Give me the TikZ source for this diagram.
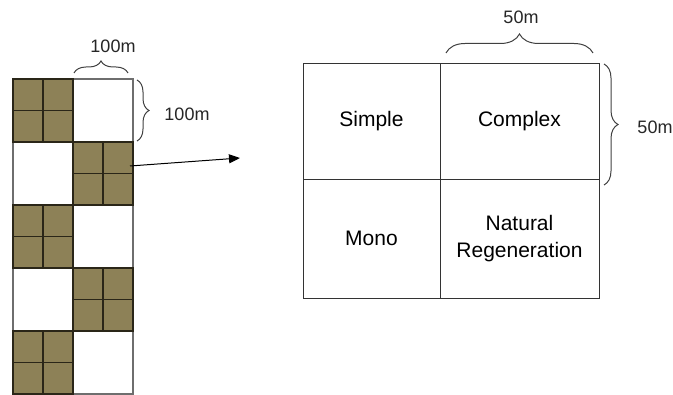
\documentclass[tikz,border=0pt]{standalone}
\usepackage{fontspec}
\setmainfont{Liberation Sans}
\usetikzlibrary{decorations.pathreplacing,arrows.meta}
\definecolor{olivef}{HTML}{8D8157}
\definecolor{gridline}{HTML}{2A2618}
\definecolor{cellline}{HTML}{6E6E6E}
\begin{document}
\begin{tikzpicture}[x=1pt,y=-1pt,
  wcell/.style={draw=cellline, line width=1.3pt, minimum width=60pt, minimum height=63pt, inner sep=0pt, outer sep=0pt, anchor=north west},
  scell/.style={wcell, draw=gridline, fill=olivef},
  sub/.style={draw=gridline, line width=1.6pt},
  quad/.style={draw=black!80, line width=0.9pt, inner sep=0pt, outer sep=0pt, anchor=north west, font=\fontsize{21}{23}\selectfont, align=center},
  lbl/.style={font=\fontsize{18}{20}\selectfont, text=black!85, inner sep=0pt},
  bracestyle/.style={draw=black!75, line width=1pt, decorate, decoration={brace, amplitude=#1}},
  conn/.style={draw=black, line width=1pt, -{Triangle[length=11pt,width=9pt]}}
]
\useasboundingbox (0,0) rectangle (673,395);
% left strip of 100 m cells
\node[scell] (r1a) at (13,79)  {};
\node[wcell] (r1b) at (73,79)  {};
\node[wcell] (r2a) at (13,142) {};
\node[scell] (r2b) at (73,142) {};
\node[scell] (r3a) at (13,205) {};
\node[wcell] (r3b) at (73,205) {};
\node[wcell] (r4a) at (13,268) {};
\node[scell] (r4b) at (73,268) {};
\node[scell] (r5a) at (13,331) {};
\node[wcell] (r5b) at (73,331) {};
\foreach \c in {r1a,r2b,r3a,r4b,r5a}{
  \draw[sub] (\c.north) -- (\c.south);
  \draw[sub] (\c.west) -- (\c.east);
  \draw[draw=gridline, line width=1.3pt] (\c.north west) rectangle (\c.south east);
}
% braces of left strip
\coordinate (b1s) at (74,73);
\coordinate (b1e) at (128,73);
\draw[bracestyle=12pt] (b1s) -- (b1e);
\node[lbl] (l1) at (113,46) {100m};
\coordinate (b2s) at (137,80);
\coordinate (b2e) at (137,141);
\draw[bracestyle=12pt] (b2s) -- (b2e);
\node[lbl] (l2) at (187,114) {100m};
% arrow
\coordinate (arrs) at (130,166);
\coordinate (arre) at (240,158);
\draw[conn] (arrs) -- (arre);
% right 50 m plot
\node[quad, minimum width=137pt, minimum height=116pt] (simple) at (303,63) {Simple};
\node[quad, minimum width=159pt, minimum height=116pt] (complex) at (440,63) {Complex};
\node[quad, minimum width=137pt, minimum height=119pt] (mono) at (303,179) {Mono};
\node[quad, minimum width=159pt, minimum height=119pt] (natreg) at (440,179) {Natural\\[4pt]Regeneration};
% braces of right plot
\coordinate (b3s) at (446,53);
\coordinate (b3e) at (593,53);
\draw[bracestyle=19pt] (b3s) -- (b3e);
\node[lbl] (l3) at (521,17) {50m};
\coordinate (b4s) at (604,64);
\coordinate (b4e) at (604,185);
\draw[bracestyle=14pt] (b4s) -- (b4e);
\node[lbl] (l4) at (655,127) {50m};
\end{tikzpicture}
\end{document}
